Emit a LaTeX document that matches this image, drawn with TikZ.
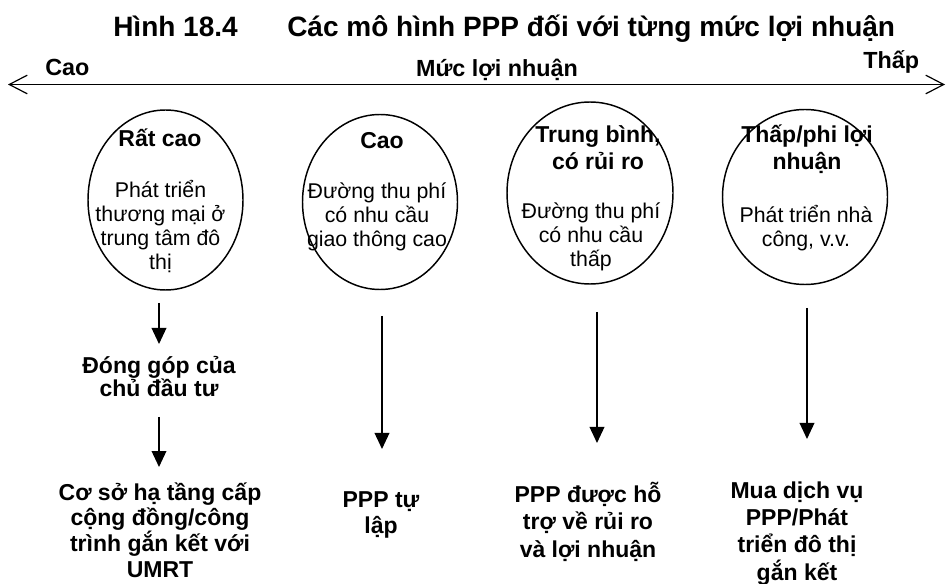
\documentclass[tikz,border=0pt]{standalone}
\usepackage{fontspec}
\setmainfont{Liberation Sans}
\usetikzlibrary{arrows.meta,shapes.geometric}

\begin{document}
\begin{tikzpicture}[
  x=0.75pt, y=-0.75pt,
  ttl/.style={font=\fontsize{21}{25}\selectfont\bfseries, anchor=base west, inner sep=0},
  lbl/.style={font=\fontsize{17.5}{20}\selectfont\bfseries, inner sep=0},
  hd/.style={font=\fontsize{17.25}{20.25}\selectfont\bfseries, align=center, anchor=base, inner sep=0},
  bd/.style={font=\fontsize{16}{18}\selectfont, align=center, anchor=base, inner sep=0},
  res/.style={font=\fontsize{17.25}{19.2}\selectfont\bfseries, align=center, anchor=base, inner sep=0},
  lvl/.style={draw, ellipse, line width=1.1pt, inner sep=0},
  dn/.style={line width=1.1pt, -{Triangle[length=12pt, width=11pt]}},
]
\useasboundingbox (0,0) rectangle (946,584);

% ---- title ----
\node[ttl] (fig) at (113,37) {Hình 18.4};
\node[ttl] (title) at (287,37) {Các mô hình PPP đối với từng mức lợi nhuận};

% ---- profit axis ----
\coordinate (axl) at (8,84.5);
\coordinate (axr) at (945,84.5);
\draw[line width=1.3pt, {Straight Barb[length=13.5pt, width=14pt, line width=0.9pt]}-{Straight Barb[length=13.5pt, width=14pt, line width=0.9pt]}] (axl) -- (axr);
\node[lbl, anchor=base west] (hi) at (45,76) {Cao};
\node[lbl, anchor=base] (axis) at (497,77) {Mức lợi nhuận};
\node[lbl, anchor=base west] (lo) at (863,69) {Thấp};

% ---- levels (multi-line texts sit on their last baseline) ----
\node[lvl, minimum width=116.25pt, minimum height=135pt] (e1) at (165.5,200) {};
\node[lvl, minimum width=116.25pt, minimum height=131.25pt] (e2) at (380,202) {};
\node[lvl, minimum width=124.5pt, minimum height=136.5pt] (e3) at (590,193) {};
\node[lvl, minimum width=123.75pt, minimum height=131.25pt] (e4) at (805,197) {};

\node[hd] (h1) at (160,147) {Rất cao};
\node[bd] (b1) at (160.5,270) {Phát triển\\thương mại ở\\trung tâm đô\\thị};
\node[hd] (h2) at (382,149) {Cao};
\node[bd] (b2) at (377,247) {Đường thu phí\\có nhu cầu\\giao thông cao};
\node[hd] (h3) at (598,170) {Trung bình,\\có rủi ro};
\node[bd] (b3) at (591,267) {Đường thu phí\\có nhu cầu\\thấp};
\node[hd] (h4) at (807,170) {Thấp/phi lợi\\nhuận};
\node[bd] (b4) at (806,247) {Phát triển nhà\\công, v.v.};

% ---- models ----
\node[res, font=\fontsize{17.25}{17.5}\selectfont\bfseries] (m0) at (159,397) {Đóng góp của\\chủ đầu tư};
\node[res] (m1) at (160,577) {Cơ sở hạ tầng cấp\\cộng đồng/công\\trình gắn kết với\\UMRT};
\node[res] (m2) at (381,533) {PPP tự\\lập};
\node[res, font=\fontsize{17.25}{20.5}\selectfont\bfseries] (m3) at (588,557) {PPP được hỗ\\trợ về rủi ro\\và lợi nhuận};
\node[res, font=\fontsize{17.25}{20.5}\selectfont\bfseries] (m4) at (797,580) {Mua dịch vụ\\PPP/Phát\\triển đô thị\\gắn kết};

\coordinate (a1s) at (159,303);  \coordinate (a1e) at (159,344);
\coordinate (a0s) at (159,417);  \coordinate (a0e) at (159,467);
\coordinate (a2s) at (382,316);  \coordinate (a2e) at (382,449);
\coordinate (a3s) at (597,312);  \coordinate (a3e) at (597,443);
\coordinate (a4s) at (807,308);  \coordinate (a4e) at (807,439);
\draw[dn] (a1s) -- (a1e);
\draw[dn] (a0s) -- (a0e);
\draw[dn] (a2s) -- (a2e);
\draw[dn] (a3s) -- (a3e);
\draw[dn] (a4s) -- (a4e);
\end{tikzpicture}
\end{document}
